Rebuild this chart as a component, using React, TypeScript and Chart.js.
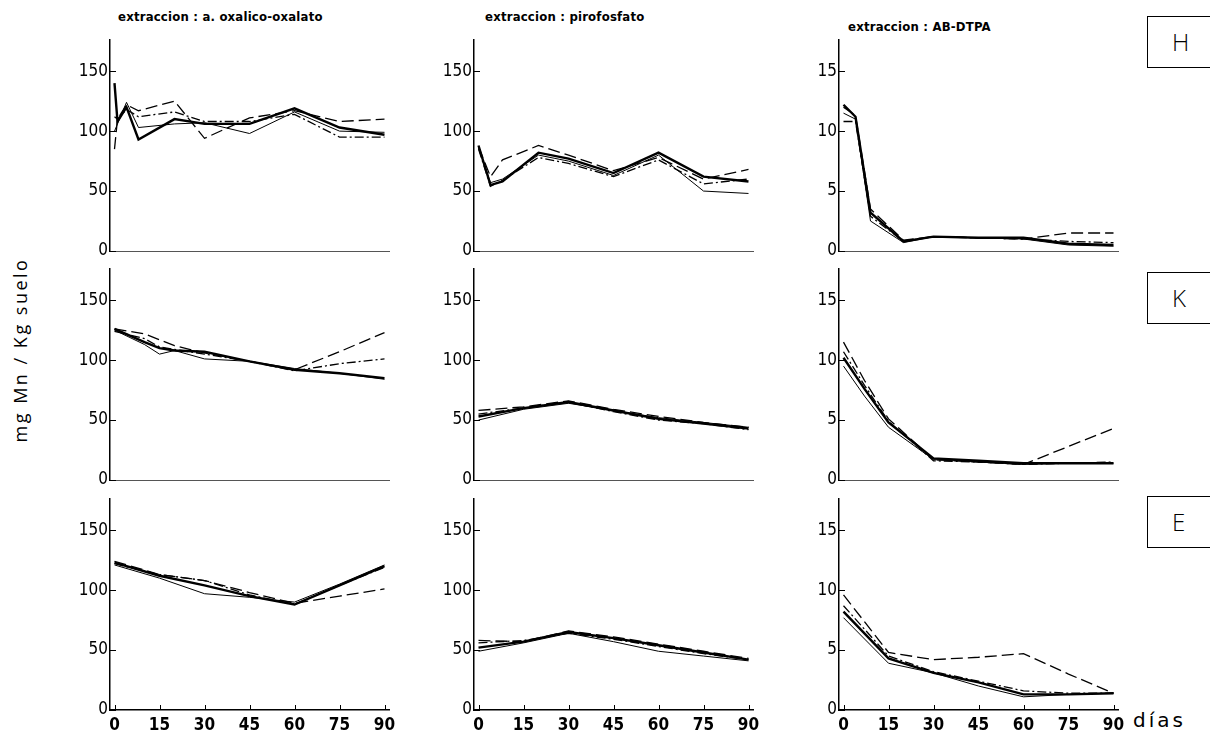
import React, { useEffect, useRef } from "react";
import { Chart, registerables } from "chart.js";
Chart.register(...registerables);

// ---- tick labels / text ----
const xTickDays = [0, 15, 30, 45, 60, 75, 90];
const yTicksMn = [0, 50, 100, 150];
const yTicksDtpa = [0, 5, 10, 15];
const columnTitles = ["extraccion : a. oxalico-oxalato", "extraccion : pirofosfato", "extraccion : AB-DTPA"];
const rowLabels = ["H", "K", "E"];
const yAxisLabel = "mg Mn / Kg suelo";
const xAxisLabel = "días";

// ---- row H ----
const daysHOx = [0, 1, 4, 8, 20, 30, 45, 60, 75, 90];
const hOxA = [140, 108, 120, 93, 110, 106, 106, 119, 103, 97];
const hOxB = [100, 106, 124, 103, 106, 107, 98, 116, 100, 99];
const hOxC = [85, 110, 122, 117, 125, 94, 111, 117, 108, 110];
const hOxD = [112, 110, 118, 112, 116, 108, 108, 114, 95, 95];

const daysHPi = [0, 4, 8, 20, 30, 45, 60, 75, 90];
const hPiA = [88, 55, 58, 82, 77, 65, 82, 62, 58];
const hPiB = [86, 57, 60, 80, 75, 63, 80, 50, 48];
const hPiC = [87, 62, 76, 88, 80, 67, 78, 60, 68];
const hPiD = [85, 54, 59, 78, 73, 62, 76, 56, 60];

const daysHDt = [0, 4, 9, 20, 30, 45, 60, 75, 90];
const hDtA = [12.2, 11.2, 3.2, 0.8, 1.2, 1.1, 1.1, 0.6, 0.5];
const hDtB = [11.5, 11.0, 2.5, 0.7, 1.2, 1.1, 1.0, 0.5, 0.4];
const hDtC = [12.0, 11.3, 3.5, 0.9, 1.2, 1.1, 1.0, 1.5, 1.5];
const hDtD = [10.8, 10.8, 2.9, 0.8, 1.2, 1.1, 1.0, 0.8, 0.7];

// ---- row K ----
const daysKOx = [0, 10, 15, 20, 30, 45, 60, 75, 90];
const kOxA = [126, 115, 110, 108, 107, 99, 92, 89, 85];
const kOxB = [125, 113, 105, 108, 101, 99, 93, 89, 84];
const kOxC = [126, 122, 117, 112, 106, 99, 92, 107, 123];
const kOxD = [124, 118, 111, 109, 105, 99, 91, 97, 101];

const daysKPi = [0, 15, 30, 45, 60, 75, 90];
const kPiA = [53, 60, 65, 58, 51, 47, 43];
const kPiB = [50, 59, 64, 58, 52, 48, 44];
const kPiC = [58, 61, 66, 59, 53, 48, 44];
const kPiD = [55, 60, 65, 57, 50, 47, 42];

const daysKDt = [0, 7, 15, 30, 45, 60, 75, 90];
const kDtA = [10.2, 7.6, 4.8, 1.8, 1.6, 1.4, 1.4, 1.4];
const kDtB = [9.5, 7.0, 4.4, 1.7, 1.5, 1.3, 1.4, 1.4];
const kDtC = [11.5, 8.3, 5.1, 1.7, 1.5, 1.3, 2.8, 4.3];
const kDtD = [10.7, 7.9, 4.9, 1.6, 1.5, 1.3, 1.4, 1.5];

// ---- row E ----
const daysEOx = [0, 15, 30, 45, 60, 75, 90];
const eOxA = [123, 112, 104, 95, 88, 104, 120];
const eOxB = [121, 110, 97, 94, 90, 105, 121];
const eOxC = [124, 113, 108, 98, 89, 95, 101];
const eOxD = [122, 113, 108, 96, 88, 104, 119];

const daysEPi = [0, 15, 30, 45, 60, 75, 90];
const ePiA = [52, 57, 65, 60, 54, 48, 42];
const ePiB = [49, 56, 64, 57, 49, 45, 41];
const ePiC = [58, 57, 66, 61, 55, 49, 43];
const ePiD = [56, 58, 64, 59, 53, 47, 42];

const daysEDt = [0, 15, 30, 45, 60, 75, 90];
const eDtA = [8.2, 4.3, 3.1, 2.3, 1.3, 1.3, 1.4];
const eDtB = [7.7, 3.9, 3.1, 2.0, 1.1, 1.3, 1.4];
const eDtC = [9.6, 4.8, 4.2, 4.4, 4.7, 3.0, 1.4];
const eDtD = [8.7, 4.5, 3.2, 2.4, 1.6, 1.4, 1.4];

const lineStyles = [
  { w: 2.4, dash: [] as number[] },
  { w: 1.0, dash: [] as number[] },
  { w: 1.3, dash: [12, 5] },
  { w: 1.3, dash: [9, 3, 2, 3] },
];

const panelRows = [
  [
    { days: daysHOx, series: [hOxA, hOxB, hOxC, hOxD] },
    { days: daysHPi, series: [hPiA, hPiB, hPiC, hPiD] },
    { days: daysHDt, series: [hDtA, hDtB, hDtC, hDtD] },
  ],
  [
    { days: daysKOx, series: [kOxA, kOxB, kOxC, kOxD] },
    { days: daysKPi, series: [kPiA, kPiB, kPiC, kPiD] },
    { days: daysKDt, series: [kDtA, kDtB, kDtC, kDtD] },
  ],
  [
    { days: daysEOx, series: [eOxA, eOxB, eOxC, eOxD] },
    { days: daysEPi, series: [ePiA, ePiB, ePiC, ePiD] },
    { days: daysEDt, series: [eDtA, eDtB, eDtC, eDtD] },
  ],
];

// layout
const colAxisX = [110, 474, 839];
const rowTop = [40, 269, 499];
const plotW = 279;
const plotH = 211;
const YW = 50;
const PT = 10;
const PR = 10;
const XH = 30;
const tickFont = { family: '"DejaVu Sans Condensed", "DejaVu Sans", sans-serif', size: 17 };

function Panel({ row, col }: { row: number; col: number }) {
  const ref = useRef<HTMLCanvasElement>(null);
  const p = panelRows[row][col];
  const isDtpa = col === 2;
  const showX = row === 2;
  const yMax = isDtpa ? 17.6 : 176;
  const yTicks = isDtpa ? yTicksDtpa : yTicksMn;
  useEffect(() => {
    if (!ref.current) return;
    const innerTicks = {
      id: "innerTicks",
      afterDraw(chart: any) {
        const { ctx, chartArea, scales } = chart;
        ctx.save();
        ctx.strokeStyle = "#000";
        ctx.lineWidth = 1;
        yTicks.forEach((v) => {
          const y = Math.round(scales.y.getPixelForValue(v)) + 0.5;
          ctx.beginPath();
          ctx.moveTo(chartArea.left, y);
          ctx.lineTo(chartArea.left + 6, y);
          ctx.stroke();
        });
        if (showX) {
          xTickDays.forEach((v) => {
            const x = Math.round(scales.x.getPixelForValue(v)) + 0.5;
            ctx.beginPath();
            ctx.moveTo(x, chartArea.bottom);
            ctx.lineTo(x, chartArea.bottom - 5);
            ctx.stroke();
          });
        }
        ctx.restore();
      },
    };
    const chart = new Chart(ref.current, {
      type: "line",
      data: {
        datasets: p.series.map((s, i) => ({
          data: p.days.map((d, j) => ({ x: d, y: s[j] })),
          borderColor: "#000",
          borderWidth: lineStyles[i].w,
          borderDash: lineStyles[i].dash,
          pointRadius: 0,
          tension: 0,
          fill: false,
        })),
      },
      options: {
        animation: false,
        responsive: false,
        maintainAspectRatio: false,
        devicePixelRatio: 1,
        layout: { padding: { top: PT, right: PR, left: 0, bottom: 0 } },
        plugins: { legend: { display: false }, tooltip: { enabled: false } },
        scales: {
          x: {
            type: "linear",
            min: -1.5,
            max: 91.5,
            grid: { display: false, drawTicks: false },
            border: { display: true, color: showX ? "#000" : "#555", width: showX ? 1.5 : 1, dash: showX ? [] : [4, 5] },
            ticks: {
              display: showX,
              color: "#000",
              font: { ...tickFont, weight: "bold" },
              padding: 5,
              maxRotation: 0,
              autoSkip: false,
            },
            afterBuildTicks: (s: any) => {
              s.ticks = xTickDays.map((v) => ({ value: v }));
            },
            afterFit: (s: any) => {
              s.height = XH;
              s.paddingLeft = 0;
              s.paddingRight = 0;
              s.paddingTop = 0;
              s.paddingBottom = 0;
            },
          },
          y: {
            min: 0,
            max: yMax,
            grid: { display: false, drawTicks: false },
            border: { display: true, color: "#000", width: 1.5 },
            ticks: { color: "#000", font: tickFont, padding: 2 },
            afterBuildTicks: (s: any) => {
              s.ticks = yTicks.map((v) => ({ value: v }));
            },
            afterFit: (s: any) => {
              s.width = YW;
              s.paddingLeft = 0;
              s.paddingRight = 0;
              s.paddingTop = 0;
              s.paddingBottom = 0;
            },
          },
        },
      } as any,
      plugins: [innerTicks],
    });
    return () => chart.destroy();
  }, []);
  const w = YW + plotW + PR;
  const h = PT + plotH + XH;
  return (
    <canvas
      ref={ref}
      width={w}
      height={h}
      style={{ position: "absolute", left: colAxisX[col] - YW, top: rowTop[row] - PT, width: w, height: h }}
    />
  );
}

const titlePos = [
  { left: 118, top: 9 },
  { left: 485, top: 9 },
  { left: 848, top: 19 },
];
const boxTops = [16, 272, 496];

export default function App() {
  return (
    <div style={{ position: "absolute", left: 0, top: 0, width: 1210, height: 736, background: "#fff", overflow: "hidden" }}>
      {columnTitles.map((t, i) => (
        <div
          key={t}
          style={{
            position: "absolute",
            left: titlePos[i].left,
            top: titlePos[i].top,
            fontFamily: '"DejaVu Sans Condensed", "DejaVu Sans", sans-serif',
            fontSize: 13,
            fontWeight: "bold",
            letterSpacing: 0.2,
            whiteSpace: "nowrap",
            color: "#000",
          }}
        >
          {t}
        </div>
      ))}
      {[0, 1, 2].map((r) => [0, 1, 2].map((c) => <Panel key={`${r}-${c}`} row={r} col={c} />))}
      <div
        style={{
          position: "absolute",
          left: 20,
          top: 350,
          transform: "translate(-50%, -50%) rotate(-90deg)",
          fontFamily: '"Open Sans", sans-serif',
          fontSize: 18,
          letterSpacing: 2.5,
          whiteSpace: "nowrap",
          color: "#000",
        }}
      >
        {yAxisLabel}
      </div>
      {rowLabels.map((l, i) => (
        <div
          key={l}
          style={{
            position: "absolute",
            left: 1147,
            top: boxTops[i],
            width: 72,
            height: 52,
            border: "1.5px solid #000",
            boxSizing: "border-box",
          }}
        >
          <div
            style={{
              position: "absolute",
              left: 24,
              top: 0,
              lineHeight: "50px",
              fontFamily: '"Open Sans", sans-serif',
              fontWeight: 300,
              fontSize: 24,
              color: "#000",
            }}
          >
            {l}
          </div>
        </div>
      ))}
      <div
        style={{
          position: "absolute",
          left: 1133,
          top: 708,
          fontFamily: '"DejaVu Sans", sans-serif',
          fontSize: 20,
          letterSpacing: 3,
          color: "#000",
        }}
      >
        {xAxisLabel}
      </div>
    </div>
  );
}
